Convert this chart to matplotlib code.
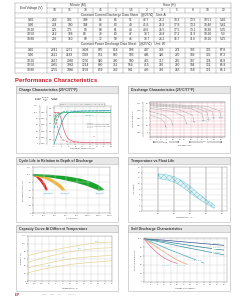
import matplotlib
matplotlib.use("Agg")
import matplotlib.pyplot as plt
import numpy as np
from matplotlib.patches import Rectangle

plt.rcParams['font.family'] = ['Liberation Sans', 'DejaVu Sans']
plt.rcParams['hatch.linewidth'] = 0.3

W, H = 247, 296

# ---------------- table data ----------------
end_voltages = ["9.60", "9.90", "10.20", "10.50", "10.80"]
minute_cols = ["10", "15", "30", "45"]
hour_cols = ["1", "1.5", "2", "3", "5", "8", "10", "20"]
current_A = [
    [243, 185, 108, 86, 66, 51, 42.7, 26.2, 19.3, 13.5, 10.51, 5.46],
    [234, 180, 104, 84, 63, 49, 41.6, 25.9, 17.8, 13.3, 10.40, 5.41],
    [225, 175, 99, 80, 61, 48, 40.6, 25.5, 17.5, 13.1, 10.30, 5.35],
    [212, 168, 94, 78, 60, 47, 38.7, 24.8, 17.2, 11.9, 10.20, 5.30],
    [202, 160, 90, 72, 58, 46, 38.7, 24.2, 16.7, 11.6, 10.10, 5.25],
]
power_W = [
    [2741, 2271, 1408, 985, 818, 598, 447, 333, 273, 193, 126, 67.8],
    [2611, 2183, 1338, 951, 800, 593, 436, 326, 270, 189, 126, 67.2],
    [2457, 2080, 1276, 920, 780, 580, 425, 317, 265, 187, 124, 66.8],
    [2365, 1982, 1214, 880, 761, 554, 415, 306, 260, 184, 122, 65.8],
    [2255, 1886, 1158, 859, 742, 541, 405, 302, 255, 158, 121, 65.1],
]

# ---------------- chart data ----------------
# Charge characteristics
chg_t = [0, 1, 2, 3, 4, 5, 6, 8, 12, 24]
chg_vol_100 = [0, 20, 42, 62, 80, 92, 98, 102, 104, 105]
chg_t50 = [0, 0.5, 1, 2, 3, 4, 6, 24]
chg_vol_50 = [50, 60, 70, 88, 98, 102, 104, 105]
chg_vt = [0, 0.5, 1, 2, 3, 4, 6, 24]
chg_volt_100 = [2.02, 2.12, 2.18, 2.24, 2.27, 2.28, 2.29, 2.29]
chg_volt_50 = [2.10, 2.19, 2.24, 2.28, 2.29, 2.29, 2.29, 2.29]
chg_ct = [0, 1, 2, 3, 4, 5, 6, 8, 10, 14, 24]
chg_cur_100 = [0.25, 0.25, 0.25, 0.2, 0.12, 0.07, 0.04, 0.02, 0.015, 0.01, 0.01]
chg_ct50 = [0, 0.5, 1, 2, 3, 4, 6, 24]
chg_cur_50 = [0.25, 0.25, 0.18, 0.09, 0.05, 0.03, 0.015, 0.01]

# Discharge characteristics (minutes, volts)
dis_rates = ["3C", "2C", "1C", "0.6C", "0.25C", "0.17C", "0.1C", "0.05C"]
dis_times = [
    [1, 3, 4.3, 5],
    [1, 4, 8, 10],
    [1, 10, 30, 40],
    [1, 20, 70, 85],
    [1, 60, 180, 220],
    [1, 100, 300, 360],
    [1, 150, 500, 600],
    [1, 300, 1050, 1250],
]
dis_volts = [
    [11.4, 10.9, 10.4, 9.6],
    [11.9, 11.4, 10.8, 9.9],
    [12.3, 11.9, 11.2, 10.1],
    [12.5, 12.1, 11.4, 10.3],
    [12.7, 12.3, 11.6, 10.5],
    [12.8, 12.4, 11.8, 10.6],
    [12.9, 12.5, 11.9, 10.8],
    [13.0, 12.6, 12.0, 10.9],
]

# Cycle life bands
dod_labels = ["100%DOD", "50%DOD", "30%DOD"]
dod_up_x = [[0, 80, 160, 220, 270], [0, 150, 300, 420, 520, 590], [0, 300, 600, 850, 1050, 1200, 1300]]
dod_up_y = [[101, 97, 88, 76, 60], [101, 98, 92, 83, 72, 60], [102, 100, 96, 90, 82, 72, 60]]
dod_lo_x = [[0, 60, 120, 180, 235], [0, 120, 250, 360, 460, 530], [0, 250, 500, 750, 950, 1100, 1200]]
dod_lo_y = [[97, 93, 84, 72, 58], [96, 93, 87, 78, 68, 58], [97, 94, 88, 80, 72, 64, 58]]
dod_colors = ["#e02828", "#f2b53a", "#18a32a"]
dod_label_pos = [(270, 52), (580, 52), (1220, 52)]

# Float life
fl_temp = [20, 25, 30, 35, 40, 45, 50, 55]
fl_upper = [13.5, 13.2, 12.5, 11.0, 9.0, 6.5, 4.2, 2.3]
fl_lower = [11.8, 11.4, 10.5, 8.8, 6.6, 4.5, 2.6, 1.0]

# Capacity vs temperature
cap_temp = [-20, -10, 0, 10, 20, 25, 30, 40]
cap_curves = [
    [68, 77, 84, 91, 97, 100, 102, 104],
    [50, 61, 70, 78, 83, 85, 87, 89],
    [35, 44, 52, 59, 63, 65, 66, 69],
    [22, 31, 38, 44, 48, 50, 51, 54],
]
cap_labels = ["0.1C", "0.2C", "1C", "3C"]
cap_label_pos = [(29, 106), (17, 87), (6, 62), (-5, 41)]

# Self discharge
sd_months = [
    [0, 6, 12, 18, 24],
    [0, 6, 12, 18, 24],
    [0, 6, 12, 18, 24],
    [0, 4, 8, 12, 16, 18],
    [0, 2, 4, 6, 8, 10, 12, 13],
    [0, 2, 4, 6, 8, 10],
]
sd_cap = [
    [100, 97, 93, 89, 85],
    [100, 94, 87, 80, 74],
    [100, 91, 81, 72, 63],
    [100, 87, 74, 62, 50, 44],
    [100, 90, 80, 70, 60, 51, 44, 41],
    [100, 82, 67, 56, 48, 43],
]
sd_colors = ["#34508a", "#2f7f95", "#3a93a8", "#45a9b5", "#f0a070", "#e07090"]
sd_labels = ["0°C(32°F)", "20°C(68°F)", "25°C(77°F)", "30°C(86°F)", "40°C(104°F)", "50°C(122°F)"]
sd_label_pos = [(22, 90), (22, 79), (22, 68), (16.5, 49), (11.5, 38), (7, 38)]

# ---------------- figure ----------------
fig = plt.figure(figsize=(W / 100, H / 100), dpi=100)
ov = fig.add_axes([0, 0, 1, 1])
ov.set_xlim(0, W)
ov.set_ylim(H, 0)
ov.axis('off')

def px_axes(x0, y0, x1, y1):
    return fig.add_axes([x0 / W, 1 - y1 / H, (x1 - x0) / W, (y1 - y0) / H])

TXT = '#333333'
LINE = '#9a9a9a'
CYAN = '#2fa3bd'

# ---- table ----
tx = [15, 47] + list(np.linspace(47, 108, 5))[1:] + list(np.linspace(108, 231, 9))[1:]
ty = [2.5, 7.5, 12.5, 17.5, 22.5, 27.3, 32, 36.8, 41.5, 47.5, 52.7, 58, 63, 68, 72.5]
lw = 0.35
# horizontal lines
for i, y in enumerate(ty):
    if i == 1:
        ov.plot([47, 231], [y, y], color=LINE, lw=lw)
    else:
        ov.plot([15, 231], [y, y], color=LINE, lw=lw)
# outer verticals
ov.plot([15, 15], [ty[0], ty[-1]], color=LINE, lw=lw)
ov.plot([231, 231], [ty[0], ty[-1]], color=LINE, lw=lw)
# header row1 verticals
for x in [47, 108]:
    ov.plot([x, x], [ty[0], ty[1]], color=LINE, lw=lw)
ov.plot([47, 47], [ty[1], ty[2]], color=LINE, lw=lw)
for x in tx[2:-1]:
    ov.plot([x, x], [ty[1], ty[2]], color=LINE, lw=lw)
# data verticals
for (a, b) in [(ty[3], ty[8]), (ty[9], ty[14])]:
    for x in tx[1:-1]:
        ov.plot([x, x], [a, b], color=LINE, lw=lw)
fs_t = 2.3
ov.text(31, (ty[0] + ty[2]) / 2, "End Voltage (V)", ha='center', va='center', fontsize=fs_t, color=TXT)
ov.text((47 + 108) / 2, (ty[0] + ty[1]) / 2, "Minute (M)", ha='center', va='center', fontsize=fs_t, color=TXT)
ov.text((108 + 231) / 2, (ty[0] + ty[1]) / 2, "Hour (H)", ha='center', va='center', fontsize=fs_t, color=TXT)
heads = minute_cols + hour_cols
for j, hd in enumerate(heads):
    ov.text((tx[j + 1] + tx[j + 2]) / 2, (ty[1] + ty[2]) / 2, hd, ha='center', va='center', fontsize=fs_t, color=TXT)
ov.text(123, (ty[2] + ty[3]) / 2, "Constant Current Discharge Data Sheet   (@25℃)   Unit: A",
        ha='center', va='center', fontsize=fs_t, color=TXT)
ov.text(123, (ty[8] + ty[9]) / 2, "Constant Power Discharge Data Sheet   (@25℃)   Unit: W",
        ha='center', va='center', fontsize=fs_t, color=TXT)
def fmt(v):
    return f"{v:g}" if not isinstance(v, float) else (f"{v:.2f}" if v < 11 and v != int(v) and len(str(v)) > 4 else f"{v:g}")
for block, start in [(current_A, 3), (power_W, 9)]:
    for i, row in enumerate(block):
        yc = (ty[start + i] + ty[start + i + 1]) / 2
        ov.text(31, yc, end_voltages[i], ha='center', va='center', fontsize=fs_t, color=TXT)
        for j, v in enumerate(row):
            s = f"{v:.2f}" if (isinstance(v, float) and j == 10 and start == 3) else f"{v:g}"
            ov.text((tx[j + 1] + tx[j + 2]) / 2, yc, s, ha='center', va='center', fontsize=fs_t, color=TXT)

# ---- section title ----
ov.text(15, 81, "Performance Characteristics", ha='left', va='center', fontsize=4.3,
        fontweight='bold', color='#c8202a')

# ---- panels ----
def panel(x0, y0, x1, y1, title):
    ov.add_patch(Rectangle((x0, y0), x1 - x0, y1 - y0, facecolor='white', edgecolor='#b5b5b5', lw=0.4))
    ov.add_patch(Rectangle((x0, y0), x1 - x0, 7, facecolor='#e8e8e8', edgecolor='#b5b5b5', lw=0.4))
    ov.text(x0 + 3, y0 + 3.6, title, ha='left', va='center', fontsize=2.5, fontweight='bold', color='#3a3a3a')

panel(16, 86, 118, 153, "Charge Characteristics (25°C/77°F)")
panel(128, 86, 230, 153, "Discharge Characteristics (25°C/77°F)")
panel(16, 157, 118, 222, "Cycle Life in Relation to Depth of Discharge")
panel(128, 157, 230, 222, "Temperature vs Float Life")
panel(16, 225, 118, 291, "Capacity Curve At Different Temperature")
panel(128, 225, 230, 291, "Self Discharge Characteristics")

def style(ax, fs=1.6):
    ax.tick_params(labelsize=fs, length=0.8, width=0.3, pad=0.6, colors='#555555')
    for s in ax.spines.values():
        s.set_linewidth(0.3)
        s.set_color('#8a8a8a')
    ax.set_facecolor('white')

# ---- Charge chart ----
ax = px_axes(54, 106, 111, 144)
style(ax)
ax.set_xlim(0, 24)
ax.set_ylim(1.5, 2.45)
ax.set_xticks([0, 3, 6, 9, 12, 15, 18, 21, 24])
ax.set_yticks([1.6, 1.8, 2.0, 2.2, 2.4])
ax.grid(True, color='#d0d0d0', lw=0.25)
ax.plot(chg_vt, chg_volt_100, color='#3cb46a', lw=0.5)
ax.plot(chg_vt, chg_volt_50, color='#3cb46a', lw=0.5, ls='--')
axc = ax.twinx()
axc.set_ylim(0, 0.3)
axv = ax.twinx()
axv.set_ylim(0, 120)
for a, off, ticks in [(axc, 5.0, [0, 0.05, 0.1, 0.15, 0.2, 0.25]), (axv, 10.1, [0, 20, 40, 60, 80, 100, 120])]:
    style(a)
    a.yaxis.set_ticks_position('left')
    a.spines['left'].set_position(('outward', off))
    a.spines['left'].set_visible(True)
    a.spines['right'].set_visible(False)
    a.spines['top'].set_visible(False)
    a.spines['bottom'].set_visible(False)
    a.set_yticks(ticks)
    a.patch.set_visible(False)
axc.plot(chg_ct, chg_cur_100, color='#e0607a', lw=0.5)
axc.plot(chg_ct50, chg_cur_50, color='#e0607a', lw=0.5, ls='--')
axv.plot(chg_t, chg_vol_100, color='#2a9fa8', lw=0.5)
axv.plot(chg_t50, chg_vol_50, color='#2a9fa8', lw=0.5, ls='--')
ax.text(12, 2.47, "Constant voltage 2.275V/cell, Constant Charging at 25°C", fontsize=1.3,
        ha='center', va='bottom', color='#555', bbox=dict(boxstyle='square,pad=0.2', fc='white', ec='#888', lw=0.25),
        clip_on=False)
ax.text(20, 2.33, "Vol. %", fontsize=1.3, color='#2a9fa8', ha='center')
ax.text(15, 2.21, "Charge Vol.", fontsize=1.3, color=CYAN, ha='center')
ax.text(17, 1.68, "C.C", fontsize=1.3, color='#e0607a', ha='center')
ax.plot([14, 16.5], [2.0, 2.0], color='#666', lw=0.35)
ax.text(17, 2.0, "After 50% discharge", fontsize=1.2, va='center', color='#555')
ax.plot([14, 16.5], [1.93, 1.93], color='#666', lw=0.35, ls='--')
ax.text(17, 1.93, "After 100% discharge", fontsize=1.2, va='center', color='#555')
ov.text(38, 99, "Charged\nVolume\n(%)", fontsize=1.4, ha='center', va='center', color='#444', linespacing=0.9)
ov.text(46, 99, "Charging\nCurrent\n(CA)", fontsize=1.4, ha='center', va='center', color='#444', linespacing=0.9)
ov.text(55, 99, "Charging\nVoltage\n(V/Cell)", fontsize=1.4, ha='center', va='center', color='#444', linespacing=0.9)
ov.text(82.5, 148.5, "Charging  Time ( Hour )", fontsize=1.7, ha='center', va='center', color='#444')

# ---- Discharge chart ----
ax = px_axes(150, 102, 225, 137)
style(ax)
ax.set_xscale('log')
ax.set_xlim(1, 1800)
ax.set_ylim(8.4, 13.2)
xt = [1, 2, 3, 5, 10, 20, 30, 60, 120, 180, 300, 600, 1200]
ax.set_xticks(xt)
ax.set_xticklabels(["1", "2", "3", "5", "10", "20", "30", "60", "2", "3", "5", "10", "20"])
ax.minorticks_off()
ax.set_yticks([9, 10, 11, 12, 13])
ax.set_yticks(list(np.arange(8.6, 13.2, 0.4)), minor=True)
ax.tick_params(axis='y', which='minor', length=0)
ax.grid(True, axis='y', which='both', color='#f2a7b8', lw=0.3)
ax.grid(True, axis='x', which='major', color='#c8c8c8', lw=0.3)
for t, v in zip(dis_times, dis_volts):
    ax.plot(t, v, color='#909090', lw=0.35, ls=(0, (2, 1)))
for r, t, v in zip(dis_rates, dis_times, dis_volts):
    ax.text(t[-1], v[-1] + 0.15, r, fontsize=1.3, color=CYAN, ha='center', va='bottom')
axd = ax.twinx()
style(axd)
axd.set_ylim(8.4 / 6, 13.2 / 6)
axd.yaxis.set_ticks_position('left')
axd.spines['left'].set_position(('outward', 5))
axd.spines['right'].set_visible(False)
axd.set_yticks([1.5, 1.67, 1.83, 2.0, 2.17])
axd.patch.set_visible(False)
ov.text(133.5, 119, "Terminal Voltage (V)", fontsize=1.4, rotation=90, ha='center', va='center', color='#444')
ov.annotate("", xy=(150, 142), xytext=(182, 142), arrowprops=dict(arrowstyle='<|-|>', lw=0.3, color='#333', mutation_scale=1.5))
ov.annotate("", xy=(186, 142), xytext=(225, 142), arrowprops=dict(arrowstyle='<|-|>', lw=0.3, color='#333', mutation_scale=1.5))
ov.text(166, 142, "Minute", fontsize=1.3, ha='center', va='center', color='#333', bbox=dict(fc='white', ec='none', pad=0.2))
ov.text(205, 142, "Hour", fontsize=1.3, ha='center', va='center', color='#333', bbox=dict(fc='white', ec='none', pad=0.2))
ov.text(184, 146, "Discharge Time", fontsize=1.4, ha='center', va='center', color='#444')

# ---- Cycle life ----
ax = px_axes(33, 167, 110, 213)
style(ax)
ax.set_xlim(0, 1400)
ax.set_ylim(0, 120)
ax.set_xticks(range(0, 1401, 200))
ax.set_xticklabels(["0", "200", "400", "600", "800", "1,000", "1,200", "1,400"])
ax.set_yticks(range(0, 121, 20))
ax.grid(True, color='#cfcfcf', lw=0.3)
for ux, uy, lx, ly, c in zip(dod_up_x, dod_up_y, dod_lo_x, dod_lo_y, dod_colors):
    ax.fill(list(ux) + list(lx[::-1]), list(uy) + list(ly[::-1]), color=c, lw=0)
for lab, (px_, py_) in zip(dod_labels, dod_label_pos):
    ax.text(px_, py_, lab, fontsize=1.4, color=CYAN, ha='center', va='center',
            bbox=dict(fc='white', ec='#bcd', lw=0.2, pad=0.3))
ov.text(23, 190, "Retained Capacity (%)", fontsize=1.5, rotation=90, ha='center', va='center', color='#444')
ov.text(71.5, 218.5, "Cycle Times", fontsize=1.5, ha='center', va='center', color='#444')

# ---- Float life ----
ax = px_axes(142, 167, 227, 211)
style(ax)
ax.set_xlim(10, 63)
ax.set_ylim(0, 16)
ax.set_xticks([20, 30, 40, 50, 60])
ax.set_yticks(range(0, 17, 2))
ax.grid(True, axis='y', color='#d5d5d5', lw=0.3)
ax.grid(True, axis='x', color='#707070', lw=0.35)
ax.fill_between(fl_temp, fl_lower, fl_upper, facecolor='#e6f6f8', edgecolor='#5ec2d2', hatch='xxxxxx', lw=0.3)
ov.text(134, 189, "Life (years)", fontsize=1.5, rotation=90, ha='center', va='center', color='#444')
ov.text(184.5, 217.5, "Temperature ( °C )", fontsize=1.5, ha='center', va='center', color='#444')

# ---- Capacity vs temperature ----
ax = px_axes(28, 236, 112, 281)
style(ax)
ax.set_xlim(-20, 40)
ax.set_ylim(0, 120)
ax.set_xticks(range(-20, 41, 5))
ax.set_yticks(range(0, 121, 20))
ax.grid(True, color='#cfcfcf', lw=0.3)
for cv in cap_curves:
    ax.plot(cap_temp, cv, color='#e6d595', lw=0.5)
for lab, (px_, py_) in zip(cap_labels, cap_label_pos):
    ax.text(px_, py_, lab, fontsize=1.4, color=CYAN, ha='center', va='center')
ov.text(21, 258, "Capacity (%)", fontsize=1.5, rotation=90, ha='center', va='center', color='#444')
ov.text(70, 288, "Temperature (°C)", fontsize=1.5, ha='center', va='center', color='#444')

# ---- Self discharge ----
ax = px_axes(144, 238, 227, 282)
style(ax)
ax.set_xlim(0, 25)
ax.set_ylim(0, 102)
ax.set_xticks(range(2, 25, 2))
ax.set_yticks([0, 20, 40, 60, 80, 100])
ax.grid(True, color='#cfcfcf', lw=0.3)
for m, c, col in zip(sd_months, sd_cap, sd_colors):
    ax.plot(m, c, color=col, lw=0.5)
for lab, (px_, py_) in zip(sd_labels, sd_label_pos):
    ax.text(px_, py_, lab, fontsize=1.3, color=CYAN, ha='center', va='center',
            bbox=dict(fc='white', ec='none', pad=0.2))
ov.text(135, 260, "Residual Capacity (%)", fontsize=1.5, rotation=90, ha='center', va='center', color='#444')
ov.text(185.5, 288, "Storage Time (Month)", fontsize=1.5, ha='center', va='center', color='#444')

# ---- footer ----
ov.text(15, 294.5, "LP", fontsize=3, fontweight='bold', color='#c8202a', ha='left', va='center')
ov.text(42, 294.5, "www.   .com      Tel:           E-mail:", fontsize=1.6, color='#aaaaaa', ha='left', va='center')

fig.savefig("out.png", dpi=100)
